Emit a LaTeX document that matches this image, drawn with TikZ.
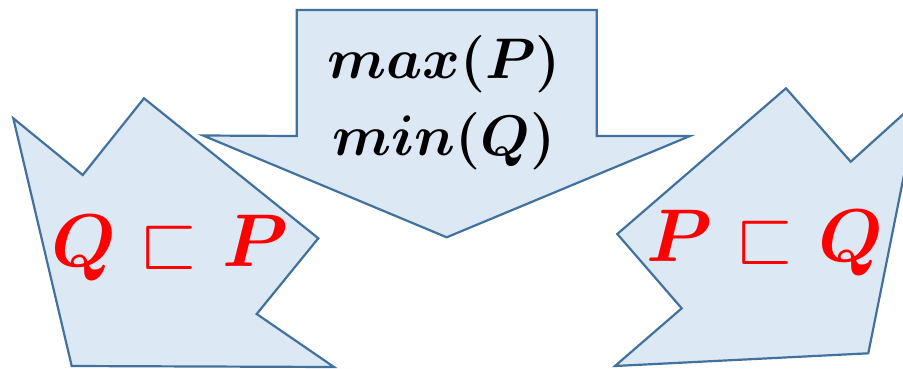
\documentclass[tikz,border=0pt]{standalone}
\usepackage{amssymb}
\definecolor{shapefill}{RGB}{221,232,245}
\definecolor{shapeline}{RGB}{65,113,156}
\tikzset{
  blob/.style={fill=shapefill, draw=shapeline, line width=2.2pt, line join=miter},
  redtxt/.style={text=red, inner sep=0pt, anchor=base, font=\Huge\boldmath, scale=3.0},
  blacktxt/.style={text=black, inner sep=0pt, anchor=base, font=\Huge\boldmath, scale=2.3}
}
\begin{document}
\begin{tikzpicture}[x=1pt,y=-1pt]
\useasboundingbox (0,0) rectangle (903,368);
\begin{scope}
\clip (0,0) rectangle (903,368);
% top arrow
\path[blob] (296.7,10) -- (596.7,10) -- (596.7,136) -- (690,136) -- (446.7,237.3) -- (203,135.5) -- (296.7,136) -- cycle;
% left shape
\path[blob] (13.3,118.3) -- (82.7,175) -- (144,98.3) -- (318.3,238.3) -- (256.7,314) -- (334,367) -- (71.7,366) -- cycle;
% right shape
\path[blob] (786,88.3) -- (850.7,161.7) -- (919,100) -- (868.3,353.3) -- (615,366) -- (681.7,308.3) -- (617.3,234) -- cycle;
\end{scope}
\node[blacktxt] (l1) at (444,78) {$max(P)$};
\node[blacktxt] (l2) at (444,155) {$min(Q)$};
\node[redtxt] (lt) at (170,266.7) {$Q\sqsubset P$};
\node[redtxt] (rt) at (765,261.7) {$P\sqsubset Q$};
\end{tikzpicture}
\end{document}
